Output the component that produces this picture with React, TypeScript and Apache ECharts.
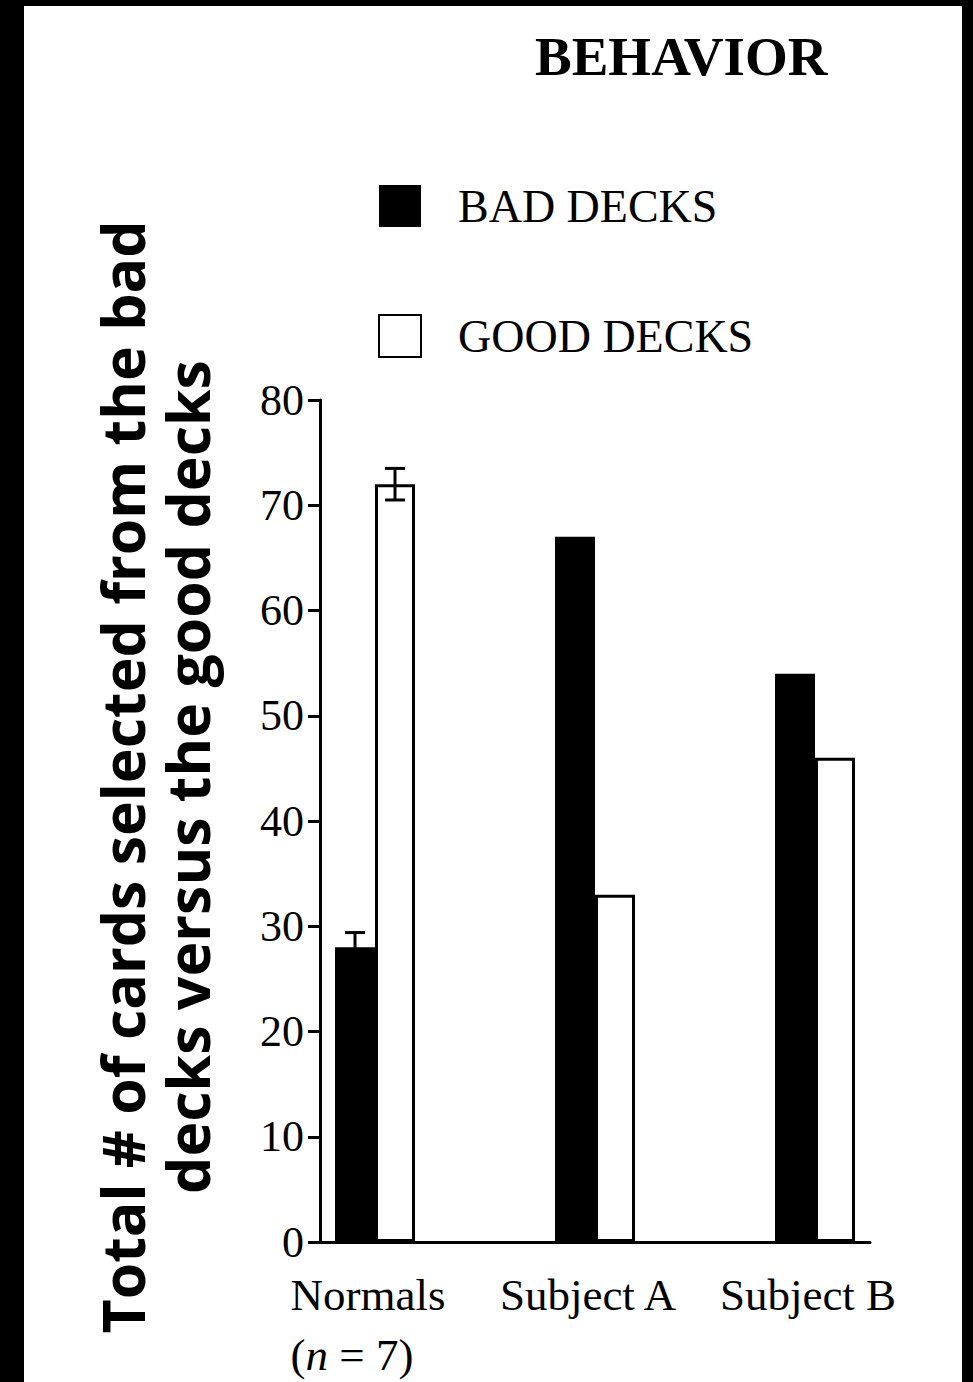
import React, { useEffect, useRef } from "react";
import * as echarts from "echarts";

const categories = ["Normals", "Subject A", "Subject B"];
const badDecks = [28, 67, 54];
const goodDecks = [72, 33, 46];
const badErr = [1.4, 0, 0];
const goodErr = [1.5, 0, 0];
const yTicks = [0, 10, 20, 30, 40, 50, 60, 70, 80];

const SERIF = "'Liberation Serif', 'Times New Roman', serif";

export default function App() {
  const ref = useRef<HTMLDivElement>(null);
  useEffect(() => {
    if (!ref.current) return;
    const chart = echarts.init(ref.current, null, { renderer: "svg" });
    const errData = (vals: number[], errs: number[]) =>
      vals.map((v, i) => [i, v - errs[i], v + errs[i], errs[i]]);
    const errRender = (side: number) => (params: any, api: any) => {
      const e = api.value(3);
      if (!e) return null;
      const x = api.value(0);
      const lo = api.coord([x, api.value(1)]);
      const hi = api.coord([x, api.value(2)]);
      const cx = lo[0] + side * 20;
      const hw = 10;
      const st = { stroke: "#000", lineWidth: 3 };
      return {
        type: "group",
        children: [
          { type: "line", shape: { x1: cx, y1: lo[1], x2: cx, y2: hi[1] }, style: st },
          { type: "line", shape: { x1: cx - hw, y1: lo[1], x2: cx + hw, y2: lo[1] }, style: st },
          { type: "line", shape: { x1: cx - hw, y1: hi[1], x2: cx + hw, y2: hi[1] }, style: st },
        ],
      };
    };
    chart.setOption({
      animation: false,
      backgroundColor: "#fff",
      title: {
        text: "BEHAVIOR",
        left: 530,
        top: 24,
        textStyle: { fontFamily: SERIF, fontWeight: "bold", fontSize: 55, color: "#000" },
      },
      legend: {
        orient: "vertical",
        left: 378,
        top: 183,
        padding: 0,
        itemWidth: 42,
        itemHeight: 42,
        itemGap: 84,
        icon: "rect",
        data: ["BAD DECKS", "GOOD DECKS"],
        textStyle: { fontFamily: SERIF, fontSize: 46, color: "#000", padding: [0, 0, 0, 32] },
      },
      grid: { left: 320, right: 103, top: 400, bottom: 140, containLabel: false, outerBoundsMode: "none" },
      xAxis: {
        type: "value",
        min: -0.25,
        max: 2.25,
        interval: 0.25,
        splitLine: { show: false },
        axisTick: { show: false },
        axisLine: { show: true, onZero: false, lineStyle: { color: "#000", width: 3 } },
        axisLabel: {
          margin: 23,
          color: "#000",
          fontFamily: SERIF,
          fontSize: 45,
          lineHeight: 60,
          padding: [0, 14, 0, 0],
          formatter: (v: number) => {
            if (Math.abs(v - Math.round(v)) > 1e-6) return "";
            const i = Math.round(v);
            if (i === 0) return "{a|" + categories[0] + "}\n{b|(}{i|n}{b| = 7)}";
            return categories[i] ?? "";
          },
          rich: {
            a: { fontFamily: SERIF, fontSize: 45, color: "#000", align: "left", lineHeight: 60 },
            b: { fontFamily: SERIF, fontSize: 45, color: "#000", align: "left", lineHeight: 60 },
            i: { fontFamily: SERIF, fontSize: 45, color: "#000", fontStyle: "italic", align: "left", lineHeight: 60 },
          },
        },
      },
      yAxis: {
        type: "value",
        min: 0,
        max: 80,
        interval: 10,
        splitLine: { show: false },
        axisLine: { show: true, onZero: false, lineStyle: { color: "#000", width: 3 } },
        axisTick: { show: true, length: 12, lineStyle: { color: "#000", width: 3 } },
        axisLabel: {
          margin: 16,
          color: "#000",
          fontFamily: SERIF,
          fontSize: 44,
          formatter: (v: number) => (yTicks.includes(v) ? String(v) : ""),
        },
        name: "Total # of cards selected from the bad\ndecks versus the good decks",
        nameLocation: "middle",
        nameRotate: 90,
        nameGap: 101,
        nameMoveOverlap: false,
        nameTextStyle: {
          fontFamily: "'Open Sans', 'Noto Sans', sans-serif",
          fontWeight: "bold",
          fontSize: 59,
          lineHeight: 65,
          color: "#000",
          padding: [0, 0, 0, 88],
        },
      },
      series: [
        {
          name: "BAD DECKS",
          type: "bar",
          barWidth: 40,
          barGap: "0%",
          itemStyle: { color: "#000" },
          data: badDecks.map((v, i) => [i, v]),
          z: 2,
        },
        {
          name: "GOOD DECKS",
          type: "bar",
          barWidth: 40,
          barGap: "0%",
          itemStyle: { color: "#fff", borderColor: "#000", borderWidth: 3 },
          data: goodDecks.map((v, i) => [i, v]),
          z: 2,
        },
        {
          type: "custom",
          renderItem: errRender(-1),
          data: errData(badDecks, badErr),
          encode: { x: 0, y: [1, 2] },
          z: 5,
          silent: true,
        },
        {
          type: "custom",
          renderItem: errRender(1),
          data: errData(goodDecks, goodErr),
          encode: { x: 0, y: [1, 2] },
          z: 5,
          silent: true,
        },
      ],
      graphic: [
        { type: "rect", left: 0, top: 0, shape: { width: 24, height: 1382 }, style: { fill: "#000" }, z: 100 },
        { type: "rect", left: 0, top: 0, shape: { width: 973, height: 6 }, style: { fill: "#000" }, z: 100 },
        { type: "rect", left: 962, top: 0, shape: { width: 11, height: 1382 }, style: { fill: "#000" }, z: 100 },
      ],
    });
    return () => chart.dispose();
  }, []);
  return (
    <div
      ref={ref}
      style={{ position: "fixed", left: 0, top: 0, width: 973, height: 1382 }}
    />
  );
}
